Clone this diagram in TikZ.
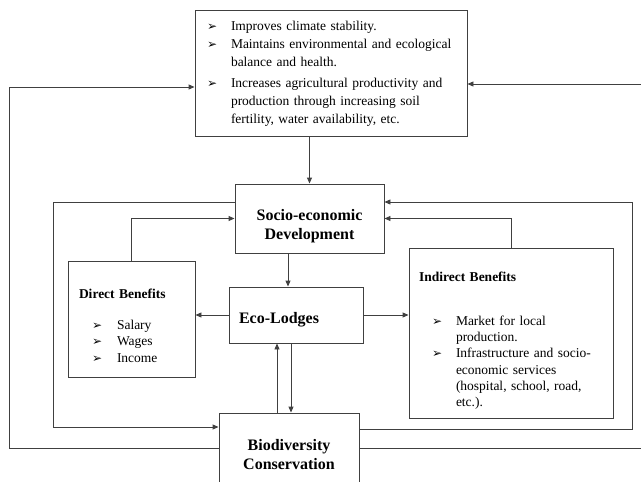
\documentclass[tikz,border=0pt]{standalone}
\usepackage{fontspec}
\setmainfont{Liberation Serif}
\newfontfamily\symfont{DejaVu Sans}
\usetikzlibrary{arrows.meta}
\newcommand{\pointer}{{\symfont\fontsize{12}{12}\selectfont ➢}}
\newcommand{\dropby}[2]{\raisebox{-#1}[\height][\depth]{#2}}
\tikzset{
  box/.style={draw=black!75, line width=0.9pt, inner sep=0pt},
  arr/.style={draw=black!75, line width=0.9pt, -{Triangle[length=6pt,width=5pt]}},
  line/.style={draw=black!75, line width=0.9pt},
  title/.style={font=\fontsize{16}{19}\selectfont\bfseries}
}
\begin{document}
\begin{tikzpicture}[x=1pt,y=-1pt]
      \useasboundingbox (0,0) rectangle (641,482);
      \draw
        (331,73) node[box, minimum width=272pt, minimum height=126pt, text width=248pt, align=left,
          font=\fontsize{13.5}{18}\selectfont]
          (effects){\begin{tabular}{@{}p{24pt}@{}l@{}}
            \pointer & Improves climate stability.\\
            \pointer & Maintains environmental and ecological\\
                     & balance and health.\\[3pt]
            \pointer & Increases agricultural productivity and\\
                     & production through increasing soil\\
                     & fertility, water availability, etc.
          \end{tabular}}
        (309.5,218.5) node[box, title, minimum width=149pt, minimum height=69pt]
          (socio){\dropby{8pt}{\begin{tabular}{@{}c@{}}Socio-economic\\Development\end{tabular}}}
        (296,315) node[box, title, minimum width=134pt, minimum height=56pt, inner xsep=10pt,
          text width=114pt, align=left]
          (lodges){\dropby{5pt}{Eco-Lodges}}
        (131.5,319) node[box, minimum width=127pt, minimum height=116pt, inner xsep=11pt,
          text width=105pt, align=left, font=\fontsize{13.5}{16.5}\selectfont]
          (direct){\dropby{8pt}{\begin{tabular}{@{\hspace{13pt}}p{25pt}@{}l@{}}
            \multicolumn{2}{@{}l@{}}{\textbf{Direct Benefits}}\\[14pt]
            \pointer & Salary\\
            \pointer & Wages\\
            \pointer & Income
          \end{tabular}}}
        (511,333) node[box, minimum width=204pt, minimum height=170pt, inner xsep=10pt,
          text width=184pt, align=left, font=\fontsize{13.5}{16.3}\selectfont]
          (indirect){\dropby{8pt}{\begin{tabular}{@{\hspace{13pt}}p{24pt}@{}l@{}}
            \multicolumn{2}{@{}l@{}}{\textbf{Indirect Benefits}}\\[27pt]
            \pointer & Market for local\\
                     & production.\\
            \pointer & Infrastructure and socio-\\
                     & economic services\\
                     & (hospital, school, road,\\
                     & etc.).
          \end{tabular}}}
        (289,454) node[box, title, minimum width=140pt, minimum height=82pt]
          (biodiv){\dropby{2pt}{\begin{tabular}{@{}c@{}}Biodiversity\\Conservation\end{tabular}}};
      \coordinate (lefttop) at (53,202);
      \coordinate (leftbot) at (53,427);
      \coordinate (fartop) at (9,87);
      \coordinate (farbot) at (9,448);
      \coordinate (righttop) at (632,202);
      \coordinate (rightbot) at (632,429);
      \coordinate (edgetop) at (641,84);
      \coordinate (edgebot) at (641,448);
      \begin{scope}[arr]
        \draw (effects.south -| socio.north) to (socio.north);
        \draw ([xshift=-8pt]lodges.north |- socio.south) to ([xshift=-8pt]lodges.north);
        \draw (lodges.west) to (lodges.west -| direct.east);
        \draw (lodges.east) to (lodges.east -| indirect.west);
        \draw ([xshift=-12pt]biodiv.north) to ([xshift=-12pt]biodiv.north |- lodges.south);
        \draw ([xshift=2pt]biodiv.north |- lodges.south) to ([xshift=2pt]biodiv.north);
        \draw (direct.north) |- (socio.west);
        \draw (indirect.north) |- (socio.east);
        \draw (lefttop -| socio.west) -- (lefttop) -- (leftbot) -- (leftbot -| biodiv.west);
        \draw (farbot -| biodiv.west) -- (farbot) -- (fartop) -- (fartop -| effects.west);
        \draw (rightbot -| biodiv.east) -- (rightbot) -- (righttop) -- (righttop -| socio.east);
        \draw (edgetop) to (edgetop -| effects.east);
      \end{scope}
      \draw[line] (edgebot -| biodiv.east) to (edgebot);
    \end{tikzpicture}
\end{document}
